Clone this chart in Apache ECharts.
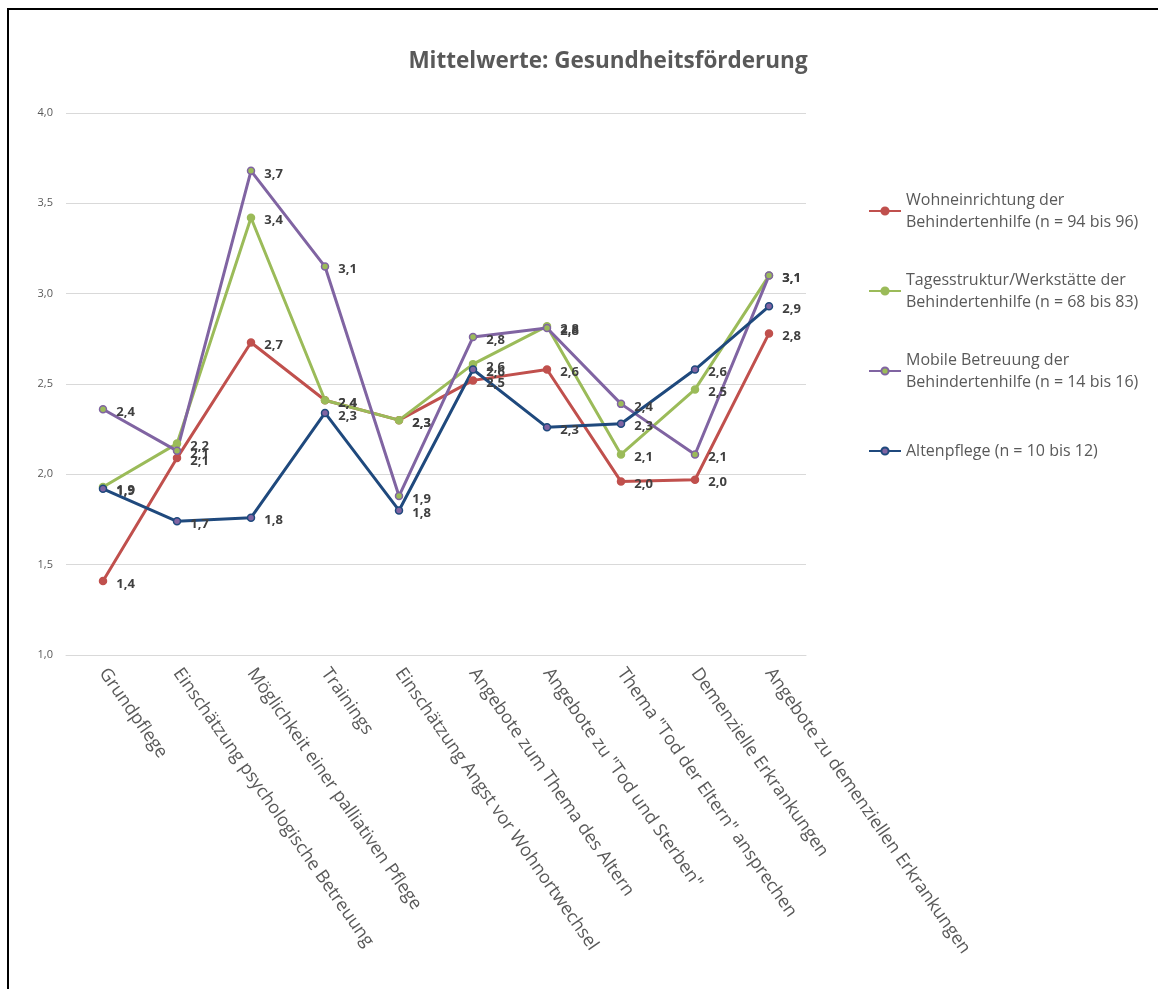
<!DOCTYPE html>
<html>
<head>
<meta charset="utf-8">
<script src="https://cdn.jsdelivr.net/npm/echarts@6/dist/echarts.min.js"></script>
<style>
    body{ margin:0; background:#fff; }
    #chart{ width:1158px; height:989px; position:relative; }
    .frame{ position:absolute; left:7px; top:8px; width:1200px; height:1100px; border:2px solid #000; pointer-events:none; }
</style>
</head>
<body>
<div id="chart"></div>
<div class="frame"></div>
<script>
    let categories=['Grundpflege','Einschätzung psychologische Betreuung','Möglichkeit einer palliativen Pflege','Trainings',
        'Einschätzung Angst vor Wohnortwechsel','Angebote zum Thema des Altern','Angebote zu "Tod und Sterben"',
        'Thema "Tod der Eltern" ansprechen','Demenzielle Erkrankungen','Angebote zu demenziellen Erkrankungen'];
    let wohnen=[1.41, 2.09, 2.73, 2.41, 2.30, 2.52, 2.58, 1.96, 1.97, 2.78];
    let tages=[1.93, 2.17, 3.42, 2.41, 2.30, 2.61, 2.82, 2.11, 2.47, 3.10];
    let mobil=[2.36, 2.13, 3.68, 3.15, 1.88, 2.76, 2.81, 2.39, 2.11, 3.10];
    let alten=[1.92, 1.74, 1.76, 2.34, 1.80, 2.58, 2.26, 2.28, 2.58, 2.93];
    let names=['Wohneinrichtung der\nBehindertenhilfe (n = 94 bis 96)','Tagesstruktur/Werkstätte der\nBehindertenhilfe (n = 68 bis 83)',
        'Mobile Betreuung der\nBehindertenhilfe (n = 14 bis 16)','Altenpflege (n = 10 bis 12)'];

    let komma=function(v){ return v.toFixed(1).replace('.',','); };
    let font='"Open Sans", sans-serif';

    function serie(name,data,line,fill){
        return {
            name:name,
            type:'line',
            data:data,
            symbol:'circle',
            symbolSize:7,
            lineStyle:{ color:line, width:3 },
            itemStyle:{ color:fill, borderColor:line, borderWidth:1.5 },
            label:{
                show:true, position:'right', distance:9, offset:[0,3],
                formatter:function(p){ return komma(p.value); },
                color:'#404040', fontWeight:'bold', fontSize:13, fontFamily:font
            },
            emphasis:{ disabled:true }
        };
    }

    let chart=echarts.init(document.getElementById('chart'));
    chart.setOption({
        animation:false,
        title:{
            text:'Mittelwerte: Gesundheitsförderung',
            left:603, top:45, textAlign:'center',
            textStyle:{ color:'#595959', fontSize:22.5, fontWeight:'bold', fontFamily:font }
        },
        legend:{
            orient:'vertical', left:863, top:173,
            itemWidth:32, itemHeight:9, itemGap:14,
            textStyle:{ color:'#595959', fontSize:16, lineHeight:22, fontFamily:font },
            data:[
                { name:names[0], textStyle:{ padding:[22,0,0,0] } },
                { name:names[1], textStyle:{ padding:[22,0,0,0] } },
                { name:names[2], textStyle:{ padding:[22,0,0,0] } },
                { name:names[3], textStyle:{ padding:[22,0,22,0] } }
            ]
        },
        grid:{ left:66, right:352, top:113, bottom:334 },
        xAxis:{
            type:'category',
            data:categories,
            axisLine:{ lineStyle:{ color:'#d9d9d9' } },
            axisTick:{ show:false },
            axisLabel:{ interval:0, rotate:-55, margin:15, color:'#595959', fontSize:18, fontFamily:font }
        },
        yAxis:{
            type:'value', min:1, max:4, interval:0.5,
            axisLine:{ show:false },
            axisTick:{ show:false },
            axisLabel:{ formatter:komma, color:'#595959', fontSize:11, margin:13, fontFamily:font },
            splitLine:{ lineStyle:{ color:'#d9d9d9' } }
        },
        series:[
            serie(names[0],wohnen,'#C0504D','#C0504D'),
            serie(names[1],tages,'#9BBB59','#9BBB59'),
            serie(names[2],mobil,'#8064A2','#9BBB59'),
            serie(names[3],alten,'#1F497D','#8064A2')
        ]
    });
</script>
</body>
</html>
